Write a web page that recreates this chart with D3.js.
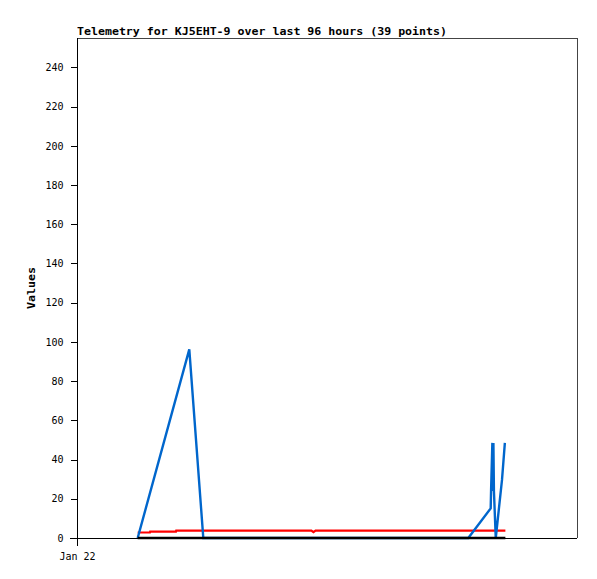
<!DOCTYPE html>
<html>
<head>
<meta charset="utf-8">
<script src="https://cdn.jsdelivr.net/npm/d3@7/dist/d3.min.js"></script>
<style>
  html, body { margin: 0; padding: 0; background: #fff; }
  svg { display: block; }
</style>
</head>
<body>
<script>
// ---- data (hours after Jan 22 00:00) ----
const title = "Telemetry for KJ5EHT-9 over last 96 hours (39 points)";
const yLabel = "Values";
const yTicks = [0, 20, 40, 60, 80, 100, 120, 140, 160, 180, 200, 220, 240];
const xTickLabels = ["Jan 22"];

const blueHours  = [11.65, 21.56, 24.25, 30.0, 40.0, 50.0, 60.0, 70.0, 75.13, 79.43, 79.5, 79.75, 79.85, 79.95, 80.05, 80.4, 81.6, 82.15];
const blueValues = [0,     96.2,  0,     0,    0,    0,    0,    0,    0,     15.1,  24,   48.5,  24,    48.5,  24,    0,    29.6,  48.5];

const redHours  = [11.65, 14.0, 14.05, 19.0, 19.05, 45.0, 45.4, 45.8, 82.25];
const redValues = [2.8,   2.8,  3.3,   3.3,  3.8,   3.8,  3.0,  3.8,  3.8];

const blackHours  = [11.65, 82.25];
const blackValues = [0,     0];

// ---- layout ----
const W = 597, H = 579;
const mLeft = 77, mRight = 577, mTop = 38, mBottom = 538;

const svg = d3.select("body").append("svg")
  .attr("width", W).attr("height", H);

const t0 = new Date(2024, 0, 22, 0, 0, 0);
const toDate = h => new Date(t0.getTime() + h * 3600e3);

const x = d3.scaleTime()
  .domain([t0, toDate(96)])
  .range([mLeft, mRight]);
const y = d3.scaleLinear()
  .domain([0, 255])
  .range([mBottom, mTop]);

// frame (top and right)
svg.append("path")
  .attr("d", `M${mLeft},${mTop + 0.5}H${mRight + 0.5}V${mBottom}`)
  .attr("fill", "none")
  .attr("stroke", "#444")
  .attr("stroke-width", 1)
  .attr("shape-rendering", "crispEdges");

// y axis
const yAxis = svg.append("g")
  .attr("transform", `translate(${mLeft + 0.5},0)`)
  .call(d3.axisLeft(y).tickValues(yTicks).tickSize(7).tickPadding(7).tickSizeOuter(0));
yAxis.select(".domain").attr("d", `M0,${mTop}V${mBottom}`);

// x axis
const xAxis = svg.append("g")
  .attr("transform", `translate(0,${mBottom + 0.5})`)
  .call(d3.axisBottom(x).tickValues([t0]).tickFormat((d, i) => xTickLabels[i]).tickSize(7).tickPadding(7).tickSizeOuter(0));
xAxis.select(".domain").attr("d", `M${mLeft - 7},0H${mRight}`);

svg.selectAll(".tick text")
  .attr("font-family", "DejaVu Sans Mono, monospace")
  .attr("font-size", 10)
  .attr("fill", "#000");
svg.selectAll(".domain, .tick line")
  .attr("stroke", "#000")
  .attr("shape-rendering", "crispEdges");

// lines
const line = d3.line()
  .x(d => x(toDate(d[0])))
  .y(d => y(d[1]));

function drawSeries(hours, values, color, width) {
  svg.append("path")
    .datum(hours.map((h, i) => [h, values[i]]))
    .attr("d", line)
    .attr("fill", "none")
    .attr("stroke", color)
    .attr("stroke-width", width)
    .attr("stroke-linejoin", "miter");
}
drawSeries(redHours, redValues, "#ff0000", 2.2);
drawSeries(blueHours, blueValues, "#0066cc", 2.4);
drawSeries(blackHours, blackValues, "#000000", 2.5);

// title
svg.append("text")
  .attr("x", mLeft)
  .attr("y", 35)
  .attr("font-family", "DejaVu Sans Mono, monospace")
  .attr("font-weight", "bold")
  .attr("font-size", 11)
  .attr("textLength", 370)
  .attr("lengthAdjust", "spacingAndGlyphs")
  .text(title);

// y label
svg.append("text")
  .attr("transform", "translate(35,288) rotate(-90)")
  .attr("text-anchor", "middle")
  .attr("font-family", "DejaVu Sans Mono, monospace")
  .attr("font-weight", "bold")
  .attr("font-size", 11)
  .attr("textLength", 42)
  .attr("lengthAdjust", "spacingAndGlyphs")
  .text(yLabel);
</script>
</body>
</html>
